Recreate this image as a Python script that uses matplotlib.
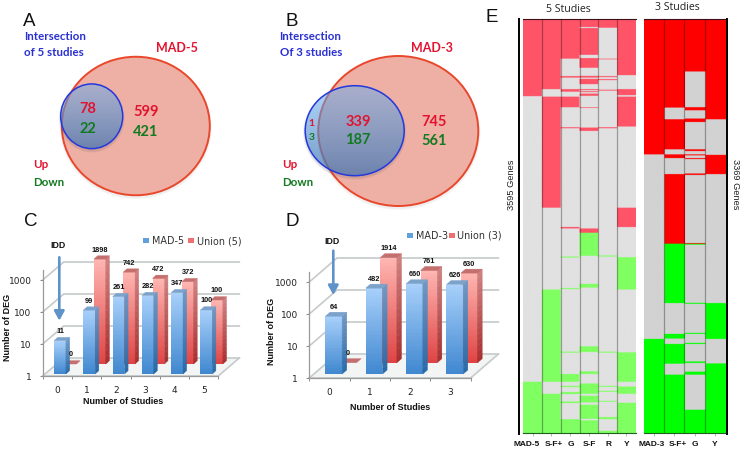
import numpy as np
import matplotlib
matplotlib.use("Agg")
import matplotlib.pyplot as plt
from matplotlib.colors import LinearSegmentedColormap, to_rgb
from matplotlib.patches import Ellipse, Polygon, PathPatch
from matplotlib.path import Path
from matplotlib.transforms import Affine2D, IdentityTransform

W, H = 743, 451
# ---------- data ----------
studies_c = ["0", "1", "2", "3", "4", "5"]
mad5 = [11, 99, 261, 282, 347, 100]
union5 = [0, 1898, 742, 472, 372, 100]
studies_d = ["0", "1", "2", "3"]
mad3 = [64, 482, 660, 626]
union3 = [0, 1914, 761, 630]
y_ticks = [1, 10, 100, 1000]

genes5 = 3595
genes3 = 3369
cols5 = ["MAD-5", "S-F+", "G", "S-F", "R", "Y"]
cols3 = ["MAD-3", "S-F+", "G", "Y"]
# run-length columns: row where each run ends, and the state of each run
l_mad5_b = [677, 3151]
l_mad5_s = "UND"
l_sfp_b = [616, 681, 1643, 2352, 3151, 3255]
l_sfp_s = "UNUNDND"
l_g_b = [352, 503, 516, 616, 638, 681, 773, 946, 955, 1810, 1823, 2066, 2075, 2339, 2348, 2890,
         2899, 3084, 3151, 3186, 3197, 3240, 3258, 3322, 3336, 3475]
l_g_s = "UNUNUNUNUNUN" + "DNDNDNDNDNDNDND"
l_sf_b = [78, 87, 319, 347, 431, 501, 516, 527, 573, 616, 625, 634, 642, 655, 674, 773, 779, 949,
          978, 1823, 1860, 2060, 2303, 2335, 2844, 2893, 3061, 3084, 3166, 3255, 3272, 3330, 3350,
          3472, 3485]
l_sf_s = "UNUNUNUNUNUNUNUNUNUNU" + "DNDNDNDNDNDNDND"
l_r_b = [84, 352, 358, 503, 512, 529, 538, 621, 629, 946, 955, 2057, 2066, 2890, 2899, 3186, 3195,
         3229, 3238, 3316, 3324, 3457, 3475, 3576]
l_r_s = "UNUNUNUNUNUN" + "DNDNDNDNDNDND"
l_y_b = [495, 616, 668, 681, 940, 1643, 1811, 2072, 2352, 2896, 3151, 3192, 3255, 3333]
l_y_s = "UNUNUNUN" + "DNDNDND"

r_mad3_b = [1107, 2605]
r_mad3_s = "UND"
r_sfp_b = [727, 822, 1066, 1107, 1137, 1267, 1832, 2314, 2564, 2602, 2646, 2806, 2895]
r_sfp_s = "UNUNUNU" + "DNDNDND"
r_g_b = [434, 724, 749, 816, 844, 1066, 1080, 1107, 1115, 1137, 1145, 1262, 1274, 1827, 1833, 1840,
         2312, 2320, 2556, 2564, 2637, 2646, 2788, 2800, 2871, 2895, 3180]
r_g_s = "UNUNUNUNUNUNUNU" + "DNDNDNDNDNDND"
r_y_b = [822, 1111, 1267, 2314, 2605, 2804]
r_y_s = "UNUNDND"

# ---------- helpers ----------
fig = plt.figure(figsize=(W / 100, H / 100), dpi=100, facecolor="white")
ov = fig.add_axes([0, 0, 1, 1], zorder=1)
ov.set_xlim(0, W)
ov.set_ylim(H, 0)
ov.axis("off")

SANS = "Liberation Sans"
RED, GREEN, BLUE = "#e2132f", "#127a1f", "#2a30d2"


def axes_px(x0, x1, y_top, y_bottom, zorder=2):
    a = fig.add_axes([x0 / W, 1 - y_bottom / H, (x1 - x0) / W, (y_bottom - y_top) / H], zorder=zorder)
    a.patch.set_alpha(0)
    return a


def label(x, y, s, color, size, weight="bold", ha="center", family="Lato", **kw):
    ov.text(x, y, s, color=color, fontsize=size, fontweight=weight, ha=ha, va="center",
            family=family, **kw)


def ring(cx, cy, w, h, hole):
    """Ellipse outline minus a hole, for a shadow that shows only outside the hole."""
    t = np.linspace(0, 2 * np.pi, 180)
    outer = np.c_[cx + w / 2 * np.cos(t), cy + h / 2 * np.sin(t)]
    hx, hy, hw, hh = hole
    inner = np.c_[hx + hw / 2 * np.cos(-t), hy + hh / 2 * np.sin(-t)]
    verts = np.r_[outer, inner]
    codes = [Path.MOVETO] + [Path.LINETO] * 179 + [Path.MOVETO] + [Path.LINETO] * 179
    return Path(verts, codes)


def venn(big, small):
    (cx, cy, w, h) = big
    for grow, al in ((4, .05), (2, .07)):
        ov.add_patch(PathPatch(ring(cx, cy + 2, w + grow, h + grow, big), fc="#808080", ec="none", alpha=al))
    ov.add_patch(Ellipse((cx, cy), w, h, fc="#eeb0a5", ec="#e9472c", lw=1.4, zorder=2))
    (sx, sy, sw, sh) = small
    for grow, al in ((4, .08), (2, .10)):
        ov.add_patch(PathPatch(ring(sx, sy + 2, sw + grow, sh + grow, small), fc="#505050", ec="none",
                               alpha=al, zorder=2.5))
    t = np.linspace(0, 1, 128)[:, None, None]
    rgb = (1 - t) * np.array([100, 172, 241]) / 255 + t * np.array([65, 116, 176]) / 255
    alpha = .5 + .25 * t
    img = np.dstack([rgb, alpha])
    im = ov.imshow(img, extent=[sx - sw / 2, sx + sw / 2, sy + sh / 2, sy - sh / 2],
                   aspect="auto", zorder=3, interpolation="bilinear")
    clip = Ellipse((sx, sy), sw, sh, transform=ov.transData, fc="none", ec="none")
    ov.add_patch(clip)
    im.set_clip_path(clip)
    ov.add_patch(Ellipse((sx, sy), sw, sh, fc="none", ec="#2438dc", lw=1.1, zorder=4))
    ov.set_xlim(0, W)
    ov.set_ylim(H, 0)


venn((135.8, 126, 148, 138.5), (91.7, 116.3, 62, 64.7))
venn((398.3, 131, 160, 150), (354.7, 130.7, 99, 90))

# Panel letters
for x, y, s in ((29, 21, "A"), (291.5, 21, "B"), (31, 222, "C"), (292, 222, "D"), (491.5, 17, "E")):
    label(x, y, s, "#111111", 13.5, weight="normal", family=SANS, zorder=6)

# Venn text
T = dict(zorder=6)
label(24, 37, "Intersection", BLUE, 8.3, ha="left", **T)
label(24, 52, "of 5 studies", BLUE, 8.3, ha="left", **T)
label(177, 48, "MAD-5", RED, 9.0, **T)
label(88, 109, "78", RED, 10.5, **T)
label(88, 129, "22", GREEN, 10.5, **T)
label(146, 112, "599", RED, 10.5, **T)
label(146, 132, "421", GREEN, 10.5, **T)
label(33, 164, "Up", RED, 8.3, ha="left", **T)
label(33, 182.5, "Down", GREEN, 8.3, ha="left", **T)

label(279.5, 37, "Intersection", BLUE, 8.3, ha="left", **T)
label(279.5, 52, "Of 3 studies", BLUE, 8.3, ha="left", **T)
label(432, 48, "MAD-3", RED, 9.0, **T)
label(311.7, 123, "1", RED, 7.5, **T)
label(311.7, 137.7, "3", GREEN, 7.5, **T)
label(358, 121.7, "339", RED, 10.5, **T)
label(358, 140.3, "187", GREEN, 10.5, **T)
label(434.3, 121.7, "745", RED, 10.5, **T)
label(434.3, 141, "561", GREEN, 10.5, **T)
label(281.7, 164, "Up", RED, 8.3, ha="left", **T)
label(281.7, 182.5, "Down", GREEN, 8.3, ha="left", **T)

# ---------- 3D-look bars ----------
blue_cm = LinearSegmentedColormap.from_list("b", ["#3f87cf", "#a8d0fb"])
red_cm = LinearSegmentedColormap.from_list("r", ["#df4343", "#ffb6b2"])
blue_side = LinearSegmentedColormap.from_list("bs", ["#2a6aa8", "#6d96c3"])
red_side = LinearSegmentedColormap.from_list("rs", ["#a83030", "#cf7f7f"])


def bar3d(ax, centre, value, width_px, off, depth, cmap, side_cm, top_col, zorder):
    v = max(value, 1)
    tr = ax.transData + Affine2D().translate(*off)
    half = width_px / 2
    cx_disp = ax.transData.transform((centre, 1))[0]
    base = ax.transData.inverted()
    xl = base.transform((cx_disp - half, 0))[0]
    xr = base.transform((cx_disp + half, 0))[0]
    if v > 1:
        n = 40
        ys = np.geomspace(1, v, n + 1)
        ax.pcolormesh([xl, xr], ys, ((np.arange(n) + .5) / n)[:, None], cmap=cmap, vmin=0,
                      vmax=1, transform=tr, zorder=zorder, clip_on=False, rasterized=False)
        for k in range(16):
            lo, hi = np.geomspace(1, v, 17)[k:k + 2]
            p = tr.transform([(xr, lo), (xr, hi)])
            pts = [p[0], p[1], p[1] + depth, p[0] + depth]
            ax.add_patch(Polygon(pts, transform=IdentityTransform(), fc=side_cm(k / 15), ec=side_cm(k / 15),
                                 lw=.3, zorder=zorder, clip_on=False))
    q = tr.transform([(xl, v), (xr, v)])
    ax.add_patch(Polygon([q[0], q[1], q[1] + depth, q[0] + depth], transform=IdentityTransform(),
                         fc=top_col, ec=top_col, lw=.3, zorder=zorder, clip_on=False))
    ax.text(centre, v, str(value), transform=tr + Affine2D().translate(0, 9), fontsize=5.3,
            fontweight="bold", family=SANS, ha="center", va="center", color="#111111", zorder=30,
            clip_on=False)


def chart3d(x0, x1, y1, cats, front, back, wall, bar_w, front_off, back_off, depth, n_dec=3.31):
    ax = axes_px(x0, x1, y1 - n_dec * 32, y1)
    n = len(cats)
    ax.set_yscale("log")
    ax.set_xlim(0, n)
    ax.set_ylim(1, 10 ** n_dec)
    ax.autoscale(False)
    for s in ax.spines.values():
        s.set_visible(False)
    ax.spines["left"].set_visible(True)
    ax.spines["bottom"].set_visible(True)
    for k in ("left", "bottom"):
        ax.spines[k].set_color("#9a9a9a")
        ax.spines[k].set_linewidth(.9)
    ax.set_yticks(y_ticks)
    ax.set_yticklabels([str(t) for t in y_ticks], fontsize=6.5, color="#222222")
    ax.minorticks_off()
    ax.set_xticks(np.arange(n + 1))
    ax.set_xticklabels([])
    ax.set_xticks(np.arange(n) + .5, labels=cats, minor=True, fontsize=6.5, color="#222222")
    ax.tick_params(axis="x", which="minor", length=0, pad=7.2)
    ax.tick_params(axis="both", which="major", length=2.5, width=.7, color="#888888", pad=5.5)
    # wall and floor
    dx, dy = wall
    T_d = ax.transData
    fl = T_d.transform([(0, 1), (n, 1)])
    ax.add_patch(Polygon([fl[0], fl[1], fl[1] + wall, fl[0] + wall], transform=IdentityTransform(),
                         fc="#f3f4f4", ec="none", zorder=0.5, clip_on=False))
    for t in y_ticks:
        a, b = T_d.transform([(0, t), (n, t)])
        c = "#c6caca"
        ax.plot([a[0], a[0] + dx, b[0] + dx], [a[1], a[1] + dy, b[1] + dy], color=c, lw=1.2,
                transform=IdentityTransform(), zorder=1, clip_on=False)
    ax.plot([fl[1][0], fl[1][0] + dx], [fl[1][1], fl[1][1] + dy], color="#c6caca", lw=1.2,
            transform=IdentityTransform(), zorder=1, clip_on=False)
    ax.plot([fl[0][0], fl[1][0]], [fl[0][1]] * 2, color="#c6caca", lw=1.2,
            transform=IdentityTransform(), zorder=1, clip_on=False)
    for i in range(n):
        bar3d(ax, i + .5, back[i], bar_w, back_off, depth, red_cm, red_side, "#c46e6e", 3 + (n - i) * .01)
    for i in range(n):
        bar3d(ax, i + .5, front[i], bar_w, front_off, depth, blue_cm, blue_side, "#7ba2cb", 6 + (n - i) * .01)
    return ax


chart3d(42.7, 218.3, 376, studies_c, mad5, union5, np.array([21, 18]), 11.8,
        (2.7, 2), (13.3, 12), np.array([3.6, 3.3]))
chart3d(309.3, 470.7, 378, studies_d, mad3, union3, np.array([27.7, 24]), 16.7,
        (4.3, 4), (18.7, 15.3), np.array([4.6, 4]))

# chart labels
for x, y in ((7.5, 327), (272, 331.7)):
    label(x, y, "Number of DEG", "#111111", 6.5, family=SANS, rotation=90)
label(123, 401.7, "Number of Studies", "#111111", 6.5, family=SANS)
label(390, 407.3, "Number of Studies", "#111111", 6.5, family=SANS)
label(58, 246, "IDD", "#111111", 6.3, family=SANS)
label(332.3, 241.7, "IDD", "#111111", 6.3, family=SANS)

arrow_ax = axes_px(0, W, 0, H, zorder=8)
arrow_ax.set_xlim(0, W)
arrow_ax.set_ylim(H, 0)
arrow_ax.axis("off")
for xa, ya, yb in ((59.3, 257.3, 320.7), (333.3, 250.7, 295)):
    arrow_ax.annotate("", xy=(xa, yb), xytext=(xa, ya),
                      arrowprops=dict(arrowstyle="-|>,head_length=0.55,head_width=0.3", color="#5e92c8",
                                      lw=1.9, shrinkA=0, shrinkB=0))

# legends
for x, c in ((146, "#62a0dd"), (191, "#ee7070"), (410, "#62a0dd"), (451.5, "#ee7070")):
    y = 240.5 if x < 300 else 235.5
    ov.add_patch(plt.Rectangle((x - 3, y - 2.5), 6, 5, fc=c, ec="none"))
for x, y, s in ((152, 241, "MAD-5"), (197, 241, "Union (5)"), (415.7, 236, "MAD-3"), (457, 236, "Union (3)")):
    label(x, y, s, "#333333", 6.9, weight="normal", ha="left", family="DejaVu Sans")


# ---------- heat maps ----------
def heat(x0, x1, total, names, columns, palette):
    ax = axes_px(x0, x1, 19, 433.3)
    n = len(names)
    rep = 20
    img = np.zeros((total, n * rep, 3))
    for i, (breaks, states) in enumerate(columns):
        edges = [0] + list(breaks) + [total]
        for j, st in zip(range(len(edges) - 1), states, strict=True):
            img[edges[j]:edges[j + 1], i * rep:(i + 1) * rep] = to_rgb(palette[st])
    ax.imshow(img, extent=[0, n, total, 0], aspect="auto", interpolation="hanning",
              interpolation_stage="rgba", zorder=2)
    for i in range(1, n):
        ax.axvline(i, color="black", alpha=.32, lw=.9, zorder=3)
    for s in ax.spines.values():
        s.set_visible(False)
    ax.spines["top"].set_visible(True)
    ax.spines["top"].set_color("#401018")
    ax.spines["top"].set_linewidth(.8)
    ax.spines["bottom"].set_visible(True)
    ax.spines["bottom"].set_color("#206020")
    ax.spines["bottom"].set_linewidth(.8)
    ax.set_yticks([])
    ax.set_xticks(np.arange(n) + .5)
    ax.set_xticklabels([])
    ax.tick_params(axis="x", length=2, width=.6, color="#aaaaaa")
    return ax


left_cols = [(l_mad5_b, l_mad5_s), (l_sfp_b, l_sfp_s), (l_g_b, l_g_s), (l_sf_b, l_sf_s), (l_r_b, l_r_s), (l_y_b, l_y_s)]
right_cols = [(r_mad3_b, r_mad3_s), (r_sfp_b, r_sfp_s), (r_g_b, r_g_s), (r_y_b, r_y_s)]
heat(523.3, 635.7, genes5, cols5, left_cols, {"U": "#ff5468", "N": "#e1e1e1", "D": "#80ff62"})
heat(643.7, 725, genes3, cols3, right_cols, {"U": "#ff0000", "N": "#d2d2d2", "D": "#00ff00"})

ov.plot([519.3, 519.3], [19, 433.5], color="black", lw=1.4)
ov.plot([727.3, 727.3], [19, 433.5], color="black", lw=1.4)
label(511.5, 185, "3595 Genes", "#222222", 6.7, weight="normal", family=SANS, rotation=90)
label(735.5, 184, "3369 Genes", "#222222", 6.7, weight="normal", family=SANS, rotation=270)
label(568, 9, "5 Studies", "#222222", 7.6, weight="normal", family="Open Sans")
label(677, 8, "3 Studies", "#222222", 7.6, weight="normal", family="Open Sans")

for x, s in zip((527, 554, 571.3, 589, 608, 627), cols5):
    label(x, 444, s, "#111111", 6.0, family=SANS)
for x, s in zip((652, 678, 695, 715), cols3):
    label(x, 444, s, "#111111", 6.0, family=SANS)

fig.savefig("out.png", dpi=100)
